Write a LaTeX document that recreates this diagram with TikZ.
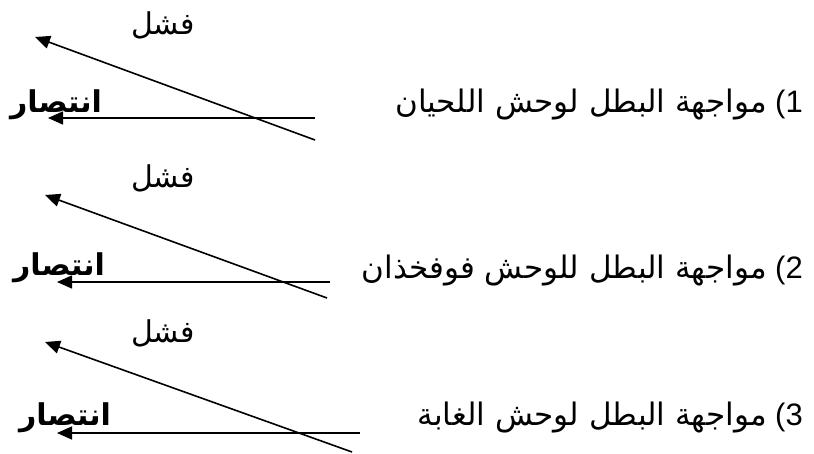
\documentclass[tikz,border=0pt]{standalone}
\usepackage{fontspec}
\usetikzlibrary{arrows.meta}
\TeXXeTstate=1
\setmainfont{Liberation Sans}
\newfontfamily\arabicfont[Script=Arabic]{DejaVu Sans}
\begin{document}
\begin{tikzpicture}[x=1pt,y=-1pt,
  lbl/.style={inner sep=0pt,font=\fontsize{30}{34}\selectfont},
  item/.style={inner sep=0pt,anchor=east,font=\fontsize{31}{35}\selectfont},
  seg/.style={line width=1.6pt,-{Triangle[length=15pt,width=13pt]}}]
\useasboundingbox (0,0) rectangle (814,453);
% row 1
\node[item] (t1) at (803,105) {{\arabicfont\beginR مواجهة البطل لوحش اللحيان\endR} (1};
\node[lbl] (f1) at (163,25) {\arabicfont\beginR فشل\endR};
\node[lbl] (v1) at (56,105) {\arabicfont\bfseries\beginR انتصار\endR};
\coordinate (d1s) at (315,140); \coordinate (d1e) at (35,37);
\coordinate (h1s) at (315,118); \coordinate (h1e) at (48,118);
\draw[seg] (d1s) -- (d1e);
\draw[seg] (h1s) -- (h1e);
% row 2
\node[item] (t2) at (803,271) {{\arabicfont\beginR مواجهة البطل للوحش فوفخذان\endR} (2};
\node[lbl] (f2) at (163,178) {\arabicfont\beginR فشل\endR};
\node[lbl] (v2) at (59,268) {\arabicfont\bfseries\beginR انتصار\endR};
\coordinate (d2s) at (327,298); \coordinate (d2e) at (45,195);
\coordinate (h2s) at (330,282); \coordinate (h2e) at (57,282);
\draw[seg] (d2s) -- (d2e);
\draw[seg] (h2s) -- (h2e);
% row 3
\node[item] (t3) at (803,418) {{\arabicfont\beginR مواجهة البطل لوحش الغابة\endR} (3};
\node[lbl] (f3) at (163,333) {\arabicfont\beginR فشل\endR};
\node[lbl] (v3) at (65,418) {\arabicfont\bfseries\beginR انتصار\endR};
\coordinate (d3s) at (352,452); \coordinate (d3e) at (45,342);
\coordinate (h3s) at (360,433); \coordinate (h3e) at (57,433);
\draw[seg] (d3s) -- (d3e);
\draw[seg] (h3s) -- (h3e);
\end{tikzpicture}
\end{document}
